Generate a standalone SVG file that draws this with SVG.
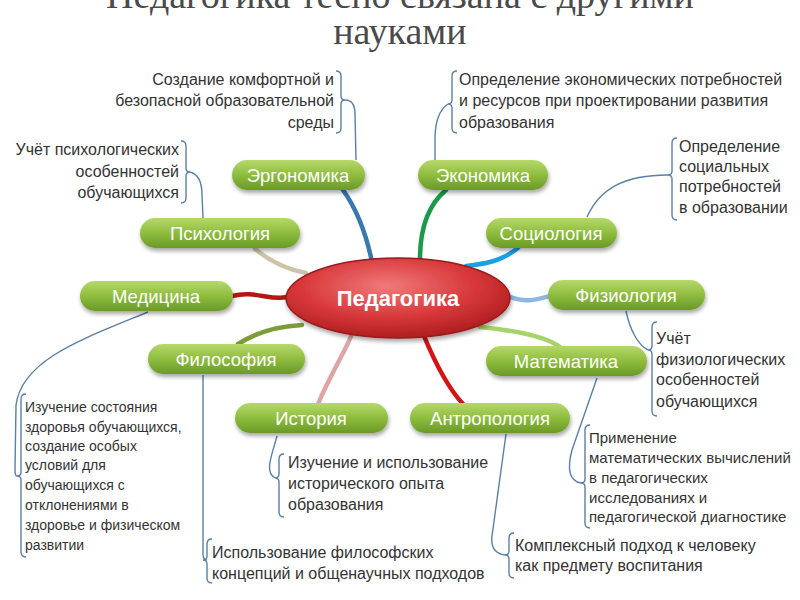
<svg xmlns="http://www.w3.org/2000/svg" width="800" height="600" viewBox="0 0 800 600">
<defs>
<linearGradient id="g" x1="0" y1="0" x2="0" y2="1">
<stop offset="0" stop-color="#b6d86a"/>
<stop offset="0.5" stop-color="#8ebd3f"/>
<stop offset="1" stop-color="#6a9a25"/>
</linearGradient>
<radialGradient id="r" cx="0.45" cy="0.35" r="0.7">
<stop offset="0" stop-color="#f07a7a"/>
<stop offset="0.55" stop-color="#d8383a"/>
<stop offset="1" stop-color="#a81a1c"/>
</radialGradient>
<filter id="sh" x="-20%" y="-30%" width="140%" height="170%">
<feGaussianBlur in="SourceAlpha" stdDeviation="2"/>
<feOffset dx="1" dy="3"/>
<feComponentTransfer><feFuncA type="linear" slope="0.35"/></feComponentTransfer>
<feMerge><feMergeNode/><feMergeNode in="SourceGraphic"/></feMerge>
</filter>
</defs>
<style>
.pill{fill:url(#g);filter:url(#sh)}
.lbl{font-family:"Liberation Sans","DejaVu Sans",sans-serif;font-size:18.5px;fill:#fff;text-anchor:middle}
.t{font-family:"Liberation Sans","DejaVu Sans",sans-serif;font-size:16px;fill:#333}
.s14{font-size:14px}
.s15{font-size:15px}
.r{text-anchor:end}
.br{fill:none;stroke:#5b7fa6;stroke-width:1.4}
.c{fill:none;stroke-width:4.5;stroke-linecap:round}
.title{font-family:"Liberation Serif","DejaVu Serif",serif;font-size:38px;fill:#4a4a4a;text-anchor:middle}
</style>
<rect width="800" height="600" fill="#fff"/>
<g id="title">
<text class="title" x="400" y="8">Педагогика тесно связана с другими</text>
<text class="title" x="400" y="44">науками</text>
</g>
<g id="connectors">
<path class="c" stroke="#3a78b0" d="M343,190 Q363,218 372,262"/>
<path class="c" stroke="#1b9a48" d="M446,190 C428,205 420,230 420,259"/>
<path class="c" stroke="#cdc3a8" d="M255,249 C272,263 290,270 306,273"/>
<path class="c" stroke="#1aa0e2" d="M518,248 C500,262 484,264 466,266"/>
<path class="c" stroke="#b31616" d="M232,296 C255,290 270,301 287,297"/>
<path class="c" stroke="#8db8e2" d="M508,296 C525,303 535,300 550,296"/>
<path class="c" stroke="#7c9c38" d="M238,344 C260,330 282,326 302,325"/>
<path class="c" stroke="#a6d46a" d="M480,327 C510,330 545,336 560,347"/>
<path class="c" stroke="#dca6a4" d="M318,404 C330,375 345,352 352,334"/>
<path class="c" stroke="#d41414" d="M424,336 C436,365 450,390 463,404"/>
<path class="br" d="M336,71 Q341,71 341,76 L341,96 Q341,100 345,100 Q341,100 341,104 L341,128 Q341,133 336,133"/>
<path class="br" d="M345,100 Q355,100 355,114 L356,160"/>
<path class="br" d="M457,71 Q452,71 452,76 L452,100 Q452,104 448,104 Q452,104 452,108 L452,128 Q452,133 457,133"/>
<path class="br" d="M448,104 Q436,112 435,136 L435,160"/>
<path class="br" d="M677,138 Q672,138 672,143 L672,171 Q672,175 668,175 Q672,175 672,179 L672,215 Q672,220 677,220"/>
<path class="br" d="M668,175 C625,175 600,188 587,217"/>
<path class="br" d="M181,141 Q186,141 186,146 L186,168 Q186,172 190,172 Q186,172 186,176 L186,198 Q186,203 181,203"/>
<path class="br" d="M190,172 Q202,175 202,195 L203,218"/>
<path class="br" d="M26,394 Q21,394 21,399 L21,472 Q21,476 17,476 Q21,476 21,480 L21,552 Q21,557 26,557"/>
<path class="br" d="M148,312 C80,340 22,360 16,405 L15,470 Q15,476 17,476"/>
<path class="br" d="M212,539 Q207,539 207,544 L207,556 Q207,560 203,560 Q207,560 207,564 L207,578 Q207,583 212,583"/>
<path class="br" d="M203,375 L203,554 Q203,560 207,560"/>
<path class="br" d="M284,454 Q279,454 279,459 L279,474 Q279,478 275,478 Q279,478 279,482 L279,512 Q279,517 284,517"/>
<path class="br" d="M277,436 C272,455 264,472 275,478"/>
<path class="br" d="M514,533 Q509,533 509,538 L509,551 Q509,555 505,555 Q509,555 509,559 L509,573 Q509,578 514,578"/>
<path class="br" d="M506,434 L492,536 Q490,553 505,555"/>
<path class="br" d="M590,425 Q585,425 585,430 L585,479 Q585,483 581,483 Q585,483 585,487 L585,523 Q585,528 590,528"/>
<path class="br" d="M597,378 L572,450 Q564,480 581,483"/>
<path class="br" d="M657,322 Q652,322 652,327 L652,346 Q652,350 648,350 Q652,350 652,354 L652,411 Q652,416 657,416"/>
<path class="br" d="M626,311 C630,330 638,345 648,350"/>
</g>
<g id="pedagogika">
<ellipse cx="398" cy="298" rx="112" ry="40" fill="url(#r)" stroke="#9a1a1c" stroke-width="1.5" filter="url(#sh)"/>
<text x="398" y="306" font-family="Liberation Sans, DejaVu Sans, sans-serif" font-size="22" font-weight="bold" fill="#fff" text-anchor="middle">Педагогика</text>
</g>
<g id="ergonomika"><rect class="pill" x="232" y="160" width="133" height="30" rx="15"/><text class="lbl" x="298" y="182">Эргономика</text></g>
<g id="ekonomika"><rect class="pill" x="418" y="160" width="130" height="30" rx="15"/><text class="lbl" x="483" y="182">Экономика</text></g>
<g id="psihologiya"><rect class="pill" x="140" y="218" width="160" height="30" rx="15"/><text class="lbl" x="220" y="240">Психология</text></g>
<g id="sociologiya"><rect class="pill" x="486" y="218" width="131" height="30" rx="15"/><text class="lbl" x="551" y="240">Социология</text></g>
<g id="medicina"><rect class="pill" x="80" y="281" width="153" height="30" rx="15"/><text class="lbl" x="156" y="303">Медицина</text></g>
<g id="fiziologiya"><rect class="pill" x="548" y="280" width="157" height="30" rx="15"/><text class="lbl" x="626" y="302">Физиология</text></g>
<g id="filosofiya"><rect class="pill" x="148" y="344" width="157" height="30" rx="15"/><text class="lbl" x="226" y="366">Философия</text></g>
<g id="matematika"><rect class="pill" x="486" y="346" width="161" height="30" rx="15"/><text class="lbl" x="566" y="368">Математика</text></g>
<g id="istoriya"><rect class="pill" x="235" y="403" width="153" height="30" rx="15"/><text class="lbl" x="311" y="425">История</text></g>
<g id="antropologiya"><rect class="pill" x="410" y="403" width="160" height="30" rx="15"/><text class="lbl" x="490" y="425">Антропология</text></g>
<g id="t-ergonomika"><text class="t r" x="334"><tspan x="334" y="85">Создание комфортной и</tspan><tspan x="334" y="106">безопасной образовательной</tspan><tspan x="334" y="128">среды</tspan></text></g>
<g id="t-ekonomika"><text class="t" x="459"><tspan x="459" y="85">Определение экономических потребностей</tspan><tspan x="459" y="106">и ресурсов при проектировании развития</tspan><tspan x="459" y="128">образования</tspan></text></g>
<g id="t-sociologiya"><text class="t" x="679"><tspan x="679" y="152">Определение</tspan><tspan x="679" y="172">социальных</tspan><tspan x="679" y="192">потребностей</tspan><tspan x="679" y="213">в образовании</tspan></text></g>
<g id="t-psihologiya"><text class="t r" x="179"><tspan x="179" y="155">Учёт психологических</tspan><tspan x="179" y="177">особенностей</tspan><tspan x="179" y="198">обучающихся</tspan></text></g>
<g id="t-medicina"><text class="t s14" x="25"><tspan x="25" y="412">Изучение состояния</tspan><tspan x="25" y="432">здоровья обучающихся,</tspan><tspan x="25" y="451">создание особых</tspan><tspan x="25" y="470">условий для</tspan><tspan x="25" y="490">обучающихся  с</tspan><tspan x="25" y="510">отклонениями в</tspan><tspan x="25" y="530">здоровье и физическом</tspan><tspan x="25" y="550">развитии</tspan></text></g>
<g id="t-fiziologiya"><text class="t" x="656"><tspan x="656" y="344">Учёт</tspan><tspan x="656" y="365">физиологических</tspan><tspan x="656" y="385">особенностей</tspan><tspan x="656" y="407">обучающихся</tspan></text></g>
<g id="t-matematika"><text class="t s15" x="589"><tspan x="589" y="443">Применение</tspan><tspan x="589" y="463">математических вычислений</tspan><tspan x="589" y="483">в педагогических</tspan><tspan x="589" y="503">исследованиях и</tspan><tspan x="589" y="522">педагогической диагностике</tspan></text></g>
<g id="t-istoriya"><text class="t" x="288"><tspan x="288" y="468">Изучение и использование</tspan><tspan x="288" y="489">исторического опыта</tspan><tspan x="288" y="510">образования</tspan></text></g>
<g id="t-antropologiya"><text class="t" x="515"><tspan x="515" y="551">Комплексный подход к человеку</tspan><tspan x="515" y="571">как предмету воспитания</tspan></text></g>
<g id="t-filosofiya"><text class="t" x="212"><tspan x="212" y="558">Использование философских</tspan><tspan x="212" y="579">концепций и общенаучных подходов</tspan></text></g>
</svg>
